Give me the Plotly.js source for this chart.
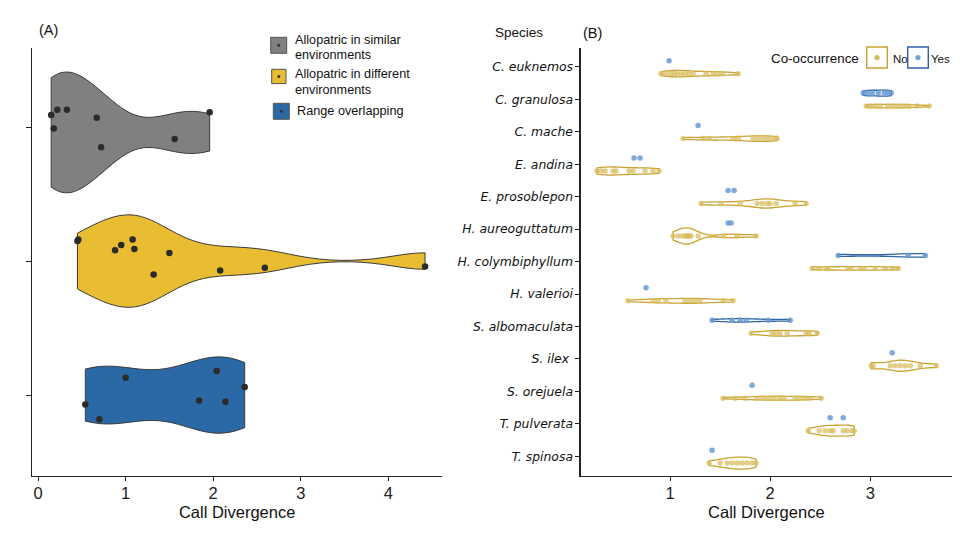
<!DOCTYPE html>
<html><head><meta charset="utf-8">
<script src="https://cdn.plot.ly/plotly-3.0.1.min.js"></script>
<style>html,body{margin:0;padding:0;background:#fff}#chart{width:980px;height:536px}</style>
</head><body><div id="chart"></div>
<script>
// ---------- Panel A data ----------
const groupNames = ['Allopatric in similar environments', 'Allopatric in different environments', 'Range overlapping'];
const similarValues = [0.15, 0.18, 0.22, 0.33, 0.67, 0.72, 1.56, 1.96];
const similarJitter = [0.09, -0.01, 0.13, 0.13, 0.07, -0.15, -0.09, 0.11];
const differentValues = [0.45, 0.46, 0.88, 0.95, 1.08, 1.10, 1.32, 1.50, 2.08, 2.59, 4.42];
const differentJitter = [0.15, 0.16, 0.08, 0.12, 0.16, 0.09, -0.10, 0.06, -0.07, -0.05, -0.04];
const overlapValues = [0.54, 0.70, 1.00, 1.84, 2.04, 2.14, 2.36];
const overlapJitter = [-0.07, -0.18, 0.13, -0.04, 0.18, -0.05, 0.06];
const xTicksA = [0, 1, 2, 3, 4];

// ---------- Panel B data ----------
const species = ['C. euknemos', 'C. granulosa', 'C. mache', 'E. andina', 'E. prosoblepon', 'H. aureoguttatum',
  'H. colymbiphyllum', 'H. valerioi', 'S. albomaculata', 'S. ilex\u00a0', 'S. orejuela', 'T. pulverata', 'T. spinosa'];
const noCalls = [
  [0.91, 0.95, 1.00, 1.04, 1.07, 1.11, 1.15, 1.19, 1.23, 1.36, 1.43, 1.47, 1.52, 1.68],
  [2.96, 3.00, 3.05, 3.10, 3.18, 3.23, 3.28, 3.33, 3.38, 3.47, 3.59],
  [1.13, 1.33, 1.39, 1.63, 1.68, 1.83, 1.88, 1.93, 1.98, 2.03, 2.07],
  [0.27, 0.31, 0.35, 0.43, 0.46, 0.59, 0.63, 0.75, 0.83, 0.89],
  [1.31, 1.51, 1.70, 1.87, 1.92, 1.97, 2.00, 2.06, 2.25, 2.36],
  [1.03, 1.08, 1.12, 1.15, 1.17, 1.18, 1.19, 1.21, 1.28, 1.54, 1.67, 1.86],
  [2.42, 2.49, 2.56, 2.58, 2.78, 2.81, 2.90, 2.94, 3.05, 3.15, 3.22, 3.28],
  [0.58, 0.83, 0.88, 0.96, 1.15, 1.20, 1.25, 1.30, 1.53, 1.63],
  [1.81, 2.02, 2.06, 2.10, 2.17, 2.36, 2.39, 2.47],
  [3.01, 3.03, 3.20, 3.25, 3.30, 3.35, 3.40, 3.50, 3.66],
  [1.53, 1.65, 1.75, 1.87, 1.93, 1.98, 2.03, 2.09, 2.14, 2.25, 2.30, 2.35, 2.40, 2.51],
  [2.38, 2.49, 2.55, 2.60, 2.63, 2.73, 2.77, 2.82, 2.84],
  [1.39, 1.50, 1.57, 1.62, 1.67, 1.72, 1.77, 1.82, 1.86]
];
const yesCalls = [
  [0.99],
  [2.93, 2.97, 3.02, 3.08, 3.14, 3.18, 3.21],
  [1.28],
  [0.64, 0.70],
  [1.58, 1.64],
  [1.58, 1.61],
  [2.68, 3.38, 3.55],
  [0.76],
  [1.42, 1.62, 1.70, 1.76, 1.98, 2.20],
  [3.22],
  [1.82],
  [2.60, 2.73],
  [1.42]
];
const xTicksB = [1, 2, 3];

// ---------- styles (kept apart from data) ----------
const widthsA = [0.9, 0.69, 0.57];
const noWidths = [0.2, 0.11, 0.17, 0.25, 0.28, 0.5, 0.11, 0.15, 0.18, 0.34, 0.12, 0.34, 0.37];
const yesWidths = [0, 0.19, 0, 0, 0, 0, 0.11, 0, 0.11, 0, 0, 0, 0];
const fillsA = ['#808080', '#E9BD31', '#2A68A6'];
const GOLD_LINE = '#C9A232', BLUE_LINE = '#2F62A6';
const GOLD_PT = 'rgba(216,188,92,0.72)', BLUE_PT = 'rgba(105,155,210,0.85)';
const SANS = 'Liberation Sans, Arial, sans-serif';

// bandwidth like R's bw.nrd0
function nrd0(v) {
  const s = v.slice().sort((a, b) => a - b), n = s.length;
  const m = s.reduce((a, b) => a + b, 0) / n;
  const sd = Math.sqrt(s.reduce((a, b) => a + (b - m) * (b - m), 0) / (n - 1));
  const q = p => { const h = (n - 1) * p, lo = Math.floor(h); return s[lo] + (h - lo) * ((s[Math.min(lo + 1, n - 1)]) - s[lo]); };
  let lo = Math.min(sd, (q(0.75) - q(0.25)) / 1.34);
  if (!lo) lo = sd || Math.abs(s[0]) || 1;
  return 0.9 * lo * Math.pow(n, -0.2);
}

const traces = [];
let gid = 0;
function violin(vals, pos, width, fill, line, lw, xa, ya) {
  traces.push({
    type: 'violin', orientation: 'h', x: vals, y0: pos, width: width,
    scalemode: 'width', scalegroup: 'g' + (gid++), spanmode: 'hard', bandwidth: nrd0(vals),
    points: false, box: {visible: false}, meanline: {visible: false},
    fillcolor: fill, line: {color: line, width: lw}, hoverinfo: 'skip', showlegend: false,
    xaxis: xa, yaxis: ya
  });
}

// Panel A
const aValues = [similarValues, differentValues, overlapValues];
const aJitter = [similarJitter, differentJitter, overlapJitter];
const aPos = [3, 2, 1];
const aShift = [-0.04, 0, 0];
aValues.forEach((vals, g) => {
  violin(vals, aPos[g] + aShift[g], widthsA[g], fillsA[g], '#3a3a3a', 1, 'x', 'y');
});
aValues.forEach((vals, g) => {
  traces.push({
    type: 'scatter', mode: 'markers', x: vals, y: vals.map((v, i) => aPos[g] + aJitter[g][i]),
    marker: {size: 6.5, color: '#2b2b2b'}, hoverinfo: 'skip', showlegend: false, xaxis: 'x', yaxis: 'y'
  });
});

// Panel B
const nSp = species.length;
const posOf = i => nSp - i;
const NO_OFF = -0.21, YES_OFF = 0.19;
species.forEach((s, i) => {
  if (noCalls[i].length >= 3) violin(noCalls[i], posOf(i) + NO_OFF, noWidths[i], 'rgba(0,0,0,0)', GOLD_LINE, 1.3, 'x2', 'y2');
  if (yesCalls[i].length >= 3) violin(yesCalls[i], posOf(i) + YES_OFF, yesWidths[i], 'rgba(0,0,0,0)', BLUE_LINE, 1.3, 'x2', 'y2');
});
const noX = [], noY = [], yesX = [], yesY = [];
species.forEach((s, i) => {
  noCalls[i].forEach(v => { noX.push(v); noY.push(posOf(i) + NO_OFF); });
  yesCalls[i].forEach(v => { yesX.push(v); yesY.push(posOf(i) + YES_OFF); });
});
traces.push({type: 'scatter', mode: 'markers', x: noX, y: noY, marker: {size: 5.5, color: GOLD_PT},
  hoverinfo: 'skip', showlegend: false, xaxis: 'x2', yaxis: 'y2'});
traces.push({type: 'scatter', mode: 'markers', x: yesX, y: yesY, marker: {size: 5.5, color: BLUE_PT},
  hoverinfo: 'skip', showlegend: false, xaxis: 'x2', yaxis: 'y2'});

// pixel helpers for annotations / legend boxes
const PX = px => (px - 32) / 920;
const PY = py => (476 - py) / 428;

const ann = [];
function txt(t, px, py, size, xanchor, extra) {
  ann.push(Object.assign({text: t, xref: 'paper', yref: 'paper', x: PX(px), y: PY(py), xanchor: xanchor || 'left',
    yanchor: 'middle', showarrow: false, font: {family: SANS, size: size, color: '#111'}}, extra || {}));
}
txt('(A)', 37, 30, 14.5);
txt('(B)', 581, 33, 14.5);
txt('Species', 493, 32, 13.5);
txt('Allopatric in similar', 293, 39.5, 12.7);
txt('environments', 293, 55, 12.7);
txt('Allopatric in different', 293, 74, 12.7);
txt('environments', 293, 90, 12.7);
txt('Range overlapping', 294.5, 111.5, 12.7);
txt('Co-occurrence', 861, 58.5, 13.4, 'right');
txt('No', 891, 58.5, 11.5);
txt('Yes', 929, 58.5, 11.5);

const shapes = [];
function rect(x0, y0, x1, y1, fill, line, lw) {
  shapes.push({type: 'rect', xref: 'paper', yref: 'paper', x0: PX(x0), x1: PX(x1), y0: PY(y1), y1: PY(y0),
    fillcolor: fill, line: {color: line, width: lw}});
}
function dot(cx, cy, r, fill) {
  shapes.push({type: 'circle', xref: 'paper', yref: 'paper', x0: PX(cx - r), x1: PX(cx + r), y0: PY(cy + r), y1: PY(cy - r),
    fillcolor: fill, line: {width: 0}});
}
rect(270.7, 37.3, 286.7, 53.3, fillsA[0], '#555', 1); dot(278.7, 45.3, 1.5, '#333');
rect(271.7, 69.3, 286, 83.6, fillsA[1], '#555', 1); dot(278.85, 76.4, 1.5, '#333');
rect(273.3, 103.3, 289.3, 119.3, fillsA[2], '#555', 1); dot(281.3, 111.3, 1.5, '#333');
rect(866.7, 47, 887.3, 68, 'rgba(0,0,0,0)', GOLD_LINE, 1.4); dot(877, 57.5, 2.6, '#D6B955');
rect(907.7, 47, 928.3, 68, 'rgba(0,0,0,0)', BLUE_LINE, 1.4); dot(918, 57.5, 2.6, '#6E9FD2');

const axisCommon = {showline: true, linecolor: '#222', linewidth: 1.2, showgrid: false, zeroline: false,
  ticks: 'outside', tickcolor: '#222', tickwidth: 1, fixedrange: true};

const layout = {
  width: 980, height: 536, paper_bgcolor: '#fff', plot_bgcolor: '#fff',
  margin: {l: 32, r: 28, t: 48, b: 60}, showlegend: false, violinmode: 'overlay',
  xaxis: Object.assign({}, axisCommon, {domain: [0, 0.446], range: [-0.069, 4.617], tickvals: xTicksA, ticklen: 4,
    ticklabelstandoff: -2, tickfont: {family: SANS, size: 16.5, color: '#222'},
    title: {text: 'Call Divergence', font: {family: SANS, size: 16.5, color: '#111'}, standoff: 5}}),
  yaxis: Object.assign({}, axisCommon, {domain: [0, 1], range: [0.396, 3.59], tickvals: [1, 2, 3], ticklen: 5,
    showticklabels: false}),
  xaxis2: Object.assign({}, axisCommon, {domain: [0.5964, 1], range: [0.107, 3.817], tickvals: xTicksB, ticklen: 4,
    anchor: 'y2', ticklabelstandoff: -2, tickfont: {family: SANS, size: 16.5, color: '#222'},
    title: {text: 'Call Divergence', font: {family: SANS, size: 16.5, color: '#111'}, standoff: 5}}),
  yaxis2: Object.assign({}, axisCommon, {domain: [0, 1], range: [0.393, 13.58], anchor: 'x2', ticklen: 4,
    tickvals: species.map((s, i) => posOf(i)), ticktext: species,
    tickfont: {family: 'DejaVu Sans', size: 12.4, style: 'italic', color: '#111'}}),
  annotations: ann, shapes: shapes
};

Plotly.newPlot('chart', traces, layout, {staticPlot: true, displayModeBar: false});
</script></body></html>
